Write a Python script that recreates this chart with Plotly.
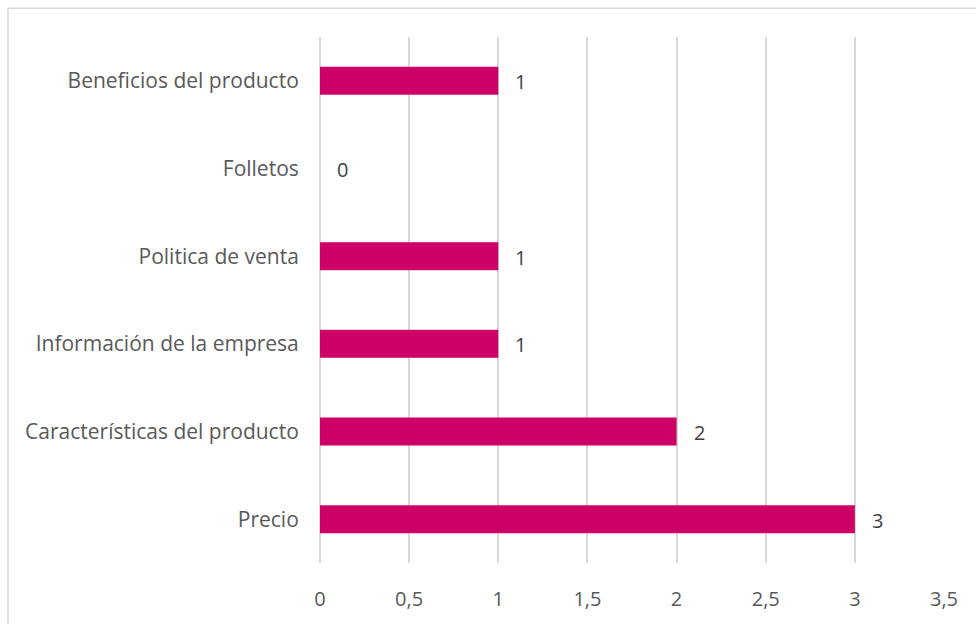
import plotly.graph_objects as go

categories = [
    "Precio",
    "Características del producto",
    "Información de la empresa",
    "Politica de venta",
    "Folletos",
    "Beneficios del producto",
]
values = [3, 2, 1, 1, 0, 1]

bar_color = "#CC0066"
text_color = "#595959"
font_family = "Open Sans, Liberation Sans, sans-serif"
cat_size = 21
num_size = 20

fig = go.Figure(
    go.Bar(
        x=values,
        y=categories,
        orientation="h",
        marker=dict(color=bar_color, line=dict(width=0)),
        width=0.32,
        hoverinfo="x+y",
    )
)

# Value labels placed just right of each bar end
for cat, val in zip(categories, values):
    fig.add_annotation(
        x=val, y=cat, text=str(val), showarrow=False,
        xanchor="left", xshift=15, yshift=-1,
        font=dict(size=num_size, color="#404040", family=font_family),
    )

# Light frame around the chart
fig.add_shape(
    type="rect", xref="paper", yref="paper",
    x0=-312 / 624, x1=1.2, y0=-0.3, y1=1 + 29 / 529,
    line=dict(color="#D9D9D9", width=1.5), fillcolor="rgba(0,0,0,0)", layer="below",
)

fig.update_layout(
    width=976, height=624,
    margin=dict(l=320, r=32, t=37, b=58),
    paper_bgcolor="white", plot_bgcolor="white",
    separators=",.",
    showlegend=False,
    font=dict(family=font_family, size=num_size, color=text_color),
    xaxis=dict(
        range=[0, 3.5], dtick=0.5, tick0=0,
        showgrid=True, gridcolor="#D9D9D9", gridwidth=2,
        zeroline=True, zerolinecolor="#D9D9D9", zerolinewidth=2,
        showline=False,
        ticks="outside", ticklen=18, tickcolor="rgba(0,0,0,0)",
        tickfont=dict(size=num_size, color=text_color),
    ),
    yaxis=dict(
        categoryorder="array", categoryarray=categories,
        range=[-0.5, 5.5],
        showgrid=False, zeroline=False, showline=False,
        ticks="outside", ticklen=16, tickcolor="rgba(0,0,0,0)",
        tickfont=dict(size=cat_size, color=text_color),
    ),
)

fig.write_html("out.html")
